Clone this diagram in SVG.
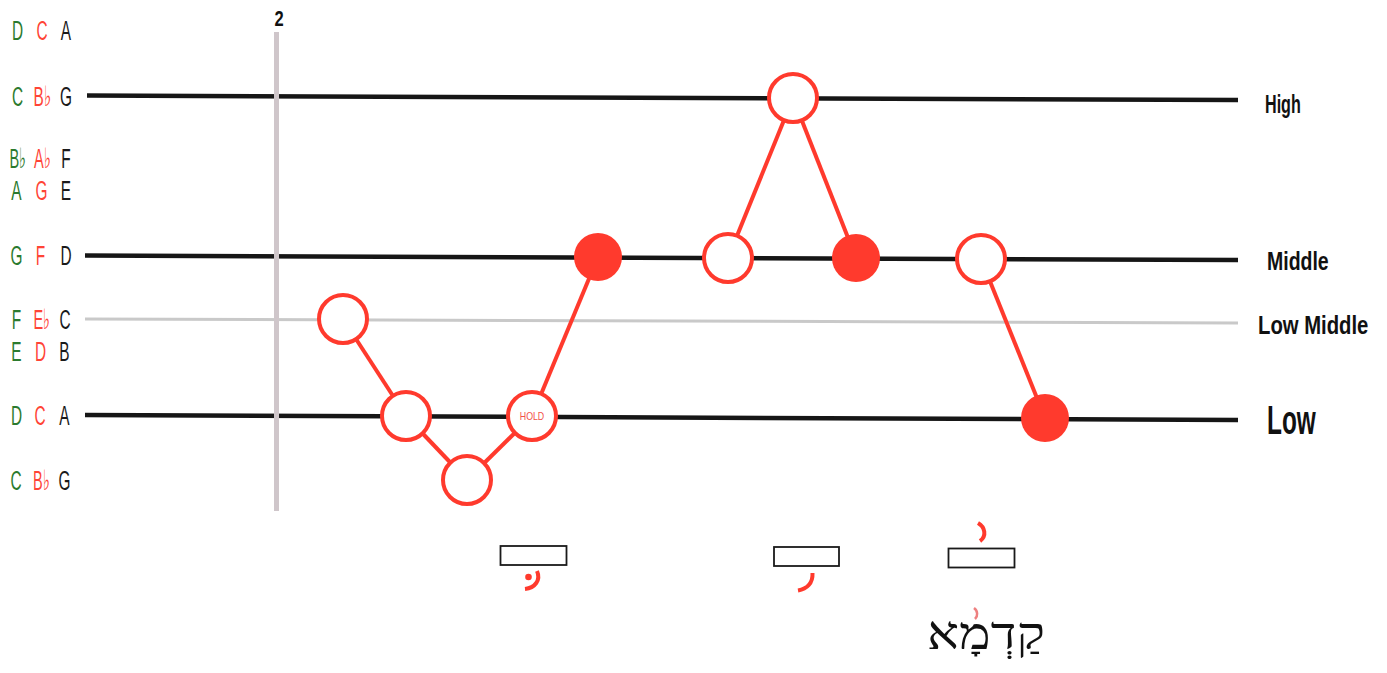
<svg xmlns="http://www.w3.org/2000/svg" width="1387" height="673" viewBox="0 0 1387 673">
<style>
.note{font-family:"Liberation Sans",sans-serif;font-size:28px;text-anchor:middle}
.g{fill:#2b7a2e}.r{fill:#ff4436}.k{fill:#1a1a1a}
.lvl{font-family:"Liberation Sans",sans-serif;font-weight:bold;fill:#111}
.staff{stroke:#161616;stroke-width:4.5;fill:none}
.open{fill:#fff;stroke:#ff3a2d;stroke-width:4}
.fill{fill:#ff3a2d}
.conn{stroke:#ff3a2d;stroke-width:4;fill:none}
.box{fill:#fff;stroke:#1a1a1a;stroke-width:1.8}
.mark{stroke:#ff3a2d;stroke-width:4;fill:none;stroke-linecap:butt}
</style>
<rect width="1387" height="673" fill="#fff"/>
<g id="staff">
<line class="staff" x1="87" y1="95.5" x2="1238" y2="100"/>
<line class="staff" x1="85" y1="255.5" x2="1238" y2="260"/>
<line x1="85" y1="319" x2="1238" y2="323" stroke="#c9c9c9" stroke-width="3"/>
<line class="staff" x1="85" y1="415" x2="1238" y2="420"/>
<line x1="276.5" y1="32" x2="276.5" y2="511" stroke="#cfc6ca" stroke-width="5"/>
<text class="lvl" transform="matrix(0.75 0 0 1 279 26)" font-size="22" text-anchor="middle">2</text>
</g>
<g id="pitch-labels" class="note">
<text class="g" transform="matrix(0.55 0 0 1 17.5 40)">D</text>
<text class="r" transform="matrix(0.55 0 0 1 42 40)">C</text>
<text class="k" transform="matrix(0.55 0 0 1 66 40)">A</text>
<text class="g" transform="matrix(0.55 0 0 1 17.5 106)">C</text>
<text class="r" transform="matrix(0.55 0 0 1 42.5 106)">B♭</text>
<text class="k" transform="matrix(0.55 0 0 1 66 106)">G</text>
<text class="g" transform="matrix(0.52 0 0 1 17.5 168)">B♭</text>
<text class="r" transform="matrix(0.52 0 0 1 42 168)">A♭</text>
<text class="k" transform="matrix(0.55 0 0 1 66 168)">F</text>
<text class="g" transform="matrix(0.55 0 0 1 16.5 200)">A</text>
<text class="r" transform="matrix(0.55 0 0 1 41.5 200)">G</text>
<text class="k" transform="matrix(0.55 0 0 1 66 200)">E</text>
<text class="g" transform="matrix(0.55 0 0 1 16.5 265)">G</text>
<text class="r" transform="matrix(0.55 0 0 1 40.5 265)">F</text>
<text class="k" transform="matrix(0.55 0 0 1 66 265)">D</text>
<text class="g" transform="matrix(0.55 0 0 1 16.5 329)">F</text>
<text class="r" transform="matrix(0.52 0 0 1 41.5 329)">E♭</text>
<text class="k" transform="matrix(0.55 0 0 1 65 329)">C</text>
<text class="g" transform="matrix(0.55 0 0 1 16.5 361)">E</text>
<text class="r" transform="matrix(0.55 0 0 1 40.5 361)">D</text>
<text class="k" transform="matrix(0.55 0 0 1 64.5 361)">B</text>
<text class="g" transform="matrix(0.55 0 0 1 16.5 425)">D</text>
<text class="r" transform="matrix(0.55 0 0 1 40 425)">C</text>
<text class="k" transform="matrix(0.55 0 0 1 64.5 425)">A</text>
<text class="g" transform="matrix(0.55 0 0 1 16 490)">C</text>
<text class="r" transform="matrix(0.52 0 0 1 41 490)">B♭</text>
<text class="k" transform="matrix(0.55 0 0 1 64.5 490)">G</text>
</g>
<g id="level-labels" class="lvl">
<text transform="matrix(0.62 0 0 1 1265 113)" font-size="26">High</text>
<text transform="matrix(0.75 0 0 1 1267 270)" font-size="26">Middle</text>
<text transform="matrix(0.78 0 0 1 1258 334)" font-size="26">Low Middle</text>
<text transform="matrix(0.61 0 0 1 1267 434)" font-size="40">Low</text>
</g>
<g id="connectors">
<line class="conn" x1="343" y1="319" x2="406" y2="416"/>
<line class="conn" x1="406" y1="416" x2="467" y2="480"/>
<line class="conn" x1="467" y1="480" x2="532" y2="416"/>
<line class="conn" x1="532" y1="416" x2="598" y2="257"/>
<line class="conn" x1="728" y1="258" x2="793" y2="98"/>
<line class="conn" x1="793" y1="98" x2="856" y2="258"/>
<line class="conn" x1="981" y1="259" x2="1045" y2="418"/>
</g>
<g id="n1"><circle class="open" cx="343" cy="319" r="24"/></g>
<g id="n2"><circle class="open" cx="406" cy="416" r="24"/></g>
<g id="n3"><circle class="open" cx="467" cy="480" r="24"/></g>
<g id="n4"><circle class="open" cx="532" cy="416" r="24"/>
<text transform="matrix(0.8 0 0 1 532 420)" font-family="Liberation Sans,sans-serif" font-size="11" fill="#f25048" text-anchor="middle">HOLD</text></g>
<g id="n5"><circle class="fill" cx="598" cy="257" r="24"/></g>
<g id="n6"><circle class="open" cx="728" cy="258" r="24"/></g>
<g id="n7"><circle class="open" cx="793" cy="98" r="24"/></g>
<g id="n8"><circle class="fill" cx="856" cy="258" r="24"/></g>
<g id="n9"><circle class="open" cx="981" cy="259" r="24"/></g>
<g id="n10"><circle class="fill" cx="1045" cy="418" r="24"/></g>
<g id="word-boxes">
<rect class="box" x="500.5" y="546" width="66" height="19"/>
<rect class="box" x="774" y="547" width="65" height="19"/>
<rect class="box" x="948.5" y="548.5" width="66" height="19"/>
<circle cx="528.5" cy="577" r="3.3" fill="#ff3a2d"/>
<path class="mark" d="M537,571 C541,580 535,588 525,589"/>
<path class="mark" d="M812.5,573 C813,583 807,589 798,590.5"/>
<path class="mark" d="M978,523 C985,527 987,536 980,541"/>
</g>
<g id="word">
<text x="986" y="649" font-family="Liberation Serif,DejaVu Sans,serif" font-size="46" text-anchor="middle" fill="#111" textLength="118" lengthAdjust="spacingAndGlyphs">קַדְמָא</text>
<path d="M974,608 C978,611 978,616 975,619" stroke="#ee8080" stroke-width="2.5" fill="none"/>
</g>
</svg>
